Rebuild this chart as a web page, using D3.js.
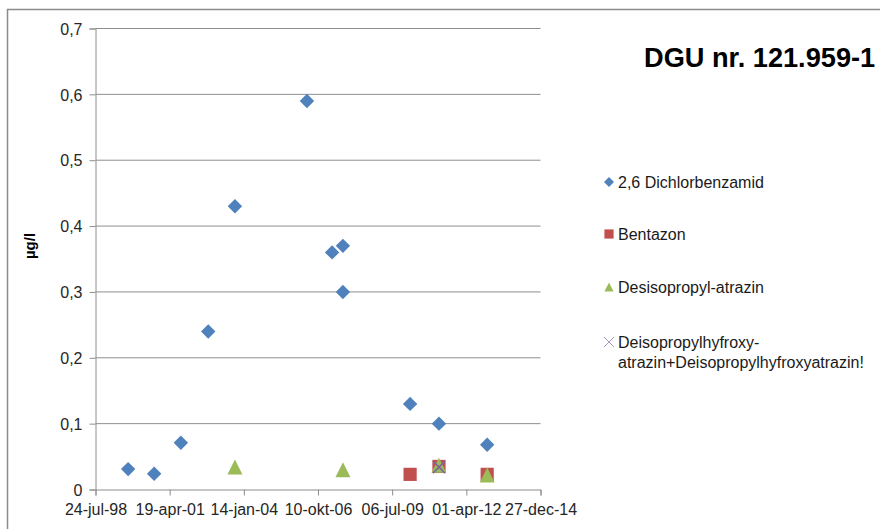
<!DOCTYPE html>
<html>
<head>
<meta charset="utf-8">
<script src="https://cdn.jsdelivr.net/npm/d3@7"></script>
<style>
  body { margin: 0; background: #fff; }
  svg { display: block; font-family: "Liberation Sans", Arial, sans-serif; }
</style>
</head>
<body>
<div id="chart"></div>
<script>
// values
const dichlorDates = ["1999-10-07", "2000-09-22", "2001-09-17", "2002-09-21", "2003-09-16", "2006-05-14",
  "2007-04-18", "2007-09-11", "2007-09-11", "2010-03-05", "2011-03-29", "2013-01-07"];
const dichlorValues = [0.031, 0.024, 0.071, 0.24, 0.43, 0.59, 0.36, 0.37, 0.30, 0.13, 0.10, 0.068];

const bentazonDates = ["2010-03-05", "2011-03-29", "2013-01-07"];
const bentazonValues = [0.023, 0.035, 0.023];

const desisoDates = ["2003-09-16", "2007-09-11", "2011-03-29", "2013-01-07"];
const desisoValues = [0.034, 0.030, 0.037, 0.022];

const hyfroxyDates = ["2011-03-29"];
const hyfroxyValues = [0.034];

const xTickDates = ["1998-07-24", "2001-04-19", "2004-01-14", "2006-10-10", "2009-07-06", "2012-04-01", "2014-12-27"];
const yTicks = [0, 0.1, 0.2, 0.3, 0.4, 0.5, 0.6, 0.7];
const monthNames = ["jan", "feb", "mar", "apr", "maj", "jun", "jul", "aug", "sep", "okt", "nov", "dec"];

const seriesNames = ["2,6 Dichlorbenzamid", "Bentazon", "Desisopropyl-atrazin",
  "Deisopropylhyfroxy-\natrazin+Deisopropylhyfroxyatrazin!"];

const width = 880, height = 529;
const parse = d3.utcParse("%Y-%m-%d");
const fmt = function(d) {
  return d3.utcFormat("%d")(d) + "-" + monthNames[d.getUTCMonth()] + "-" + d3.utcFormat("%y")(d);
};

const svg = d3.select("#chart").append("svg")
  .attr("width", width)
  .attr("height", height);

// chart area border (cropped at right/bottom)
svg.append("rect")
  .attr("x", 7.5).attr("y", 9.5)
  .attr("width", 1000).attr("height", 1000)
  .attr("fill", "none")
  .attr("stroke", "#8c8c8c")
  .attr("stroke-width", 1.5);

const x = d3.scaleUtc()
  .domain([parse(xTickDates[0]), parse(xTickDates[xTickDates.length - 1])])
  .range([95.5, 540.5]);
const y = d3.scaleLinear().domain([0, 0.7]).range([489.5, 28.5]);

// gridlines
svg.append("g")
  .selectAll("line")
  .data(yTicks.slice(1))
  .enter().append("line")
  .attr("x1", x.range()[0]).attr("x2", x.range()[1])
  .attr("y1", function(d) { return y(d); })
  .attr("y2", function(d) { return y(d); })
  .attr("stroke", "#8e8e8e")
  .attr("stroke-width", 1);

let yAxis = svg.append("g")
  .attr("transform", "translate(" + x.range()[0] + ",0)")
  .call(d3.axisLeft(y).tickValues(yTicks).tickSize(6).tickPadding(7)
    .tickFormat(function(d) { return d === 0 ? "0" : d3.format(".1f")(d).replace(".", ","); }));

let xAxis = svg.append("g")
  .attr("transform", "translate(0," + y(0) + ")")
  .call(d3.axisBottom(x).tickValues(xTickDates.map(parse)).tickSize(6).tickPadding(8)
    .tickFormat(fmt));

[yAxis, xAxis].forEach(function(a) {
  a.select(".domain").attr("stroke", "#8e8e8e");
  a.selectAll(".tick line").attr("stroke", "#8e8e8e");
  a.selectAll("text").attr("font-size", 16).attr("fill", "#262626")
    .attr("font-family", "Liberation Sans, Arial, sans-serif");
});
yAxis.selectAll(".tick text").attr("dy", "0.36em");

svg.append("text")
  .attr("transform", "translate(35,246) rotate(-90)")
  .attr("text-anchor", "middle")
  .attr("font-size", 15)
  .attr("font-weight", "bold")
  .text("µg/l");

// title sits close to the right edge, as in the reference
svg.append("text")
  .attr("x", 644).attr("y", 67)
  .attr("font-size", 27.2)
  .attr("font-weight", "bold")
  .attr("fill", "#000")
  .text("DGU nr. 121.959-1");

// markers
const diamond = function(s) { return "M0," + (-s) + "L" + s + ",0L0," + s + "L" + (-s) + ",0Z"; };
const square = function(s) { return "M" + (-s) + "," + (-s) + "H" + s + "V" + s + "H" + (-s) + "Z"; };
const triangle = function(s) { return "M0," + (-s) + "L" + s + "," + s + "L" + (-s) + "," + s + "Z"; };
const cross = function(s) { return "M" + (-s) + "," + (-s) + "L" + s + "," + s + "M" + s + "," + (-s) + "L" + (-s) + "," + s; };

const series = [
  { dates: dichlorDates, values: dichlorValues, path: diamond, size: 7.2, fill: "#4f81bd", stroke: "none" },
  { dates: bentazonDates, values: bentazonValues, path: square, size: 6.6, fill: "#c0504d", stroke: "none" },
  { dates: desisoDates, values: desisoValues, path: triangle, size: 7.5, fill: "#9bbb59", stroke: "none" },
  { dates: hyfroxyDates, values: hyfroxyValues, path: cross, size: 6, fill: "none", stroke: "#8064a2" }
];

series.forEach(function(s) {
  svg.append("g")
    .selectAll("path")
    .data(s.dates.map(function(d, i) { return [parse(d), s.values[i]]; }))
    .enter().append("path")
    .attr("transform", function(d) { return "translate(" + x(d[0]) + "," + y(d[1]) + ")"; })
    .attr("d", s.path(s.size))
    .attr("fill", s.fill)
    .attr("stroke", s.stroke)
    .attr("stroke-width", 1.5);
});

// legend
const legendY = [182, 234, 287, 342];
const legend = svg.append("g");
series.forEach(function(s, i) {
  let g = legend.append("g").attr("transform", "translate(609," + legendY[i] + ")");
  g.append("path")
    .attr("d", s.path(i === 3 ? 5 : (i === 0 ? 5 : 4.6)))
    .attr("fill", s.fill)
    .attr("stroke", i === 3 ? "#a898c0" : s.stroke)
    .attr("stroke-width", 1);
  let t = g.append("text")
    .attr("x", 9)
    .attr("y", 6)
    .attr("font-size", 16)
    .attr("fill", "#1a1a1a");
  seriesNames[i].split("\n").forEach(function(line, j) {
    t.append("tspan").attr("x", 9).attr("dy", j === 0 ? 0 : 20).text(line);
  });
});
</script>
</body>
</html>
